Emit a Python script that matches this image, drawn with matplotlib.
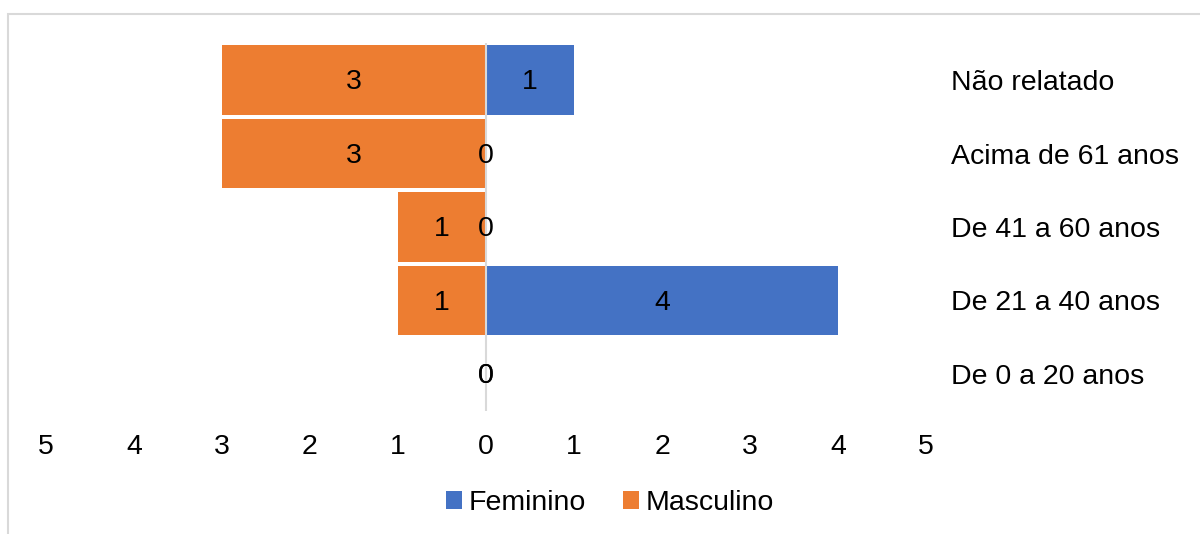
import matplotlib
matplotlib.use('Agg')
import matplotlib.pyplot as plt
from matplotlib.patches import Rectangle
import numpy as np

plt.rcParams['font.family'] = ['Liberation Sans', 'DejaVu Sans']

# data (bottom to top, as drawn)
categories = ['De 0 a 20 anos', 'De 21 a 40 anos', 'De 41 a 60 anos',
              'Acima de 61 anos', 'Não relatado']
feminino = [0, 4, 0, 0, 1]
masculino = [0, 1, 1, 3, 3]
x_ticks = [-5, -4, -3, -2, -1, 0, 1, 2, 3, 4, 5]
x_tick_labels = ['5', '4', '3', '2', '1', '0', '1', '2', '3', '4', '5']

BLUE = '#4472C4'
ORANGE = '#ED7D31'
GRID = '#D9D9D9'
FS = 20.5

fig = plt.figure(figsize=(12, 5.34), dpi=100)
W, H = 1200, 534

# outer chart frame (cropped at right / bottom like the original)
fig.patches.append(Rectangle((8 / W, -0.05), 1.2, 1 - 14 / H + 0.05,
                             transform=fig.transFigure, fill=False,
                             edgecolor=GRID, linewidth=1.5))

left, right = 46 / W, 926 / W
top, bottom = 1 - 43.3 / H, 1 - 410.7 / H
ax = fig.add_axes([left, bottom, right - left, top - bottom])

y = np.arange(len(categories))
h = 0.95
masc_neg = [-v for v in masculino]
ax.barh(y, feminino, height=h, color=BLUE, label='Feminino', zorder=2)
ax.barh(y, masc_neg, height=h, color=ORANGE, label='Masculino', zorder=2)
ax.axvline(0, color=GRID, linewidth=1.5, zorder=3)

# data labels, centred in each bar
for i in range(len(categories)):
    ax.text(masc_neg[i] / 2, y[i] - 0.03, str(masculino[i]), ha='center',
            va='center', fontsize=FS, color='black', zorder=4)
    ax.text(feminino[i] / 2, y[i] - 0.03, str(feminino[i]), ha='center',
            va='center', fontsize=FS, color='black', zorder=4)

ax.set_xlim(-5, 5)
ax.set_ylim(-0.5, len(categories) - 0.5)
ax.set_xticks(x_ticks)
ax.set_xticklabels(x_tick_labels, fontsize=FS)
ax.set_yticks(y)
ax.set_yticklabels(categories, fontsize=FS)
ax.yaxis.tick_right()
ax.tick_params(axis='both', length=0)
ax.tick_params(axis='x', pad=17)
ax.tick_params(axis='y', pad=18)
for s in ax.spines.values():
    s.set_visible(False)

handles, labels = ax.get_legend_handles_labels()
fig.legend(handles, labels, loc='center', bbox_to_anchor=(610 / W, 1 - 503 / H),
           ncol=2, frameon=False, fontsize=FS, handlelength=0.55,
           handleheight=0.55, handletextpad=0.25, columnspacing=1.3)

fig.savefig('out.png', dpi=100)
